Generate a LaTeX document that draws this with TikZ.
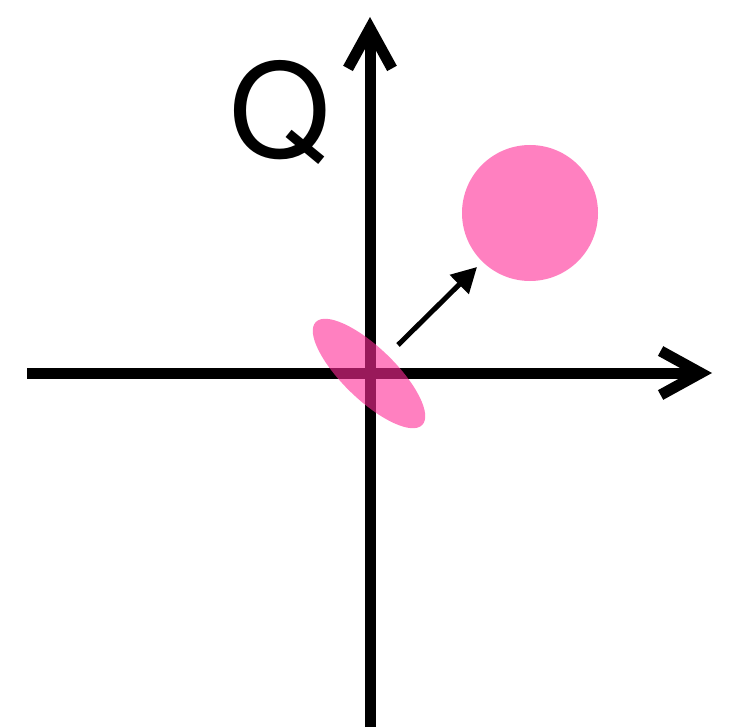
\documentclass[tikz,border=0pt]{standalone}
\usepackage{fontspec}
\setmainfont{TeX Gyre Heros}
\usetikzlibrary{arrows.meta}
\definecolor{pinkbase}{RGB}{255,43,150}
\definecolor{pinkshow}{RGB}{255,128,192}
\tikzset{
  axis/.style={line width=11pt, -{Straight Barb[length=40pt,width=44pt,line join=miter]}},
  shiftarrow/.style={line width=5pt, -{Triangle[length=25pt,width=26pt]}},
}
\begin{document}
\begin{tikzpicture}[x=1pt,y=-1pt]
\useasboundingbox (0,0) rectangle (743,727);
\coordinate (xs) at (27,373);
\coordinate (xe) at (712,373);
\coordinate (ys) at (370,727);
\coordinate (ye) at (370,17);
\coordinate (as) at (398,345);
\coordinate (ae) at (477,267);
\draw[axis] (xs) -- (xe);
\draw[axis] (ys) -- (ye);
\fill[pinkbase, opacity=0.6, shift={(369,373.5)}, rotate=-44] (0,0) ellipse [x radius=74pt, y radius=26pt];
\fill[pinkshow] (530,213) circle [radius=68pt];
\draw[shiftarrow] (as) -- (ae);
\node[anchor=base, inner sep=0pt, font=\fontsize{130}{130}\selectfont] (q) at (280,158) {Q};
\end{tikzpicture}
\end{document}
